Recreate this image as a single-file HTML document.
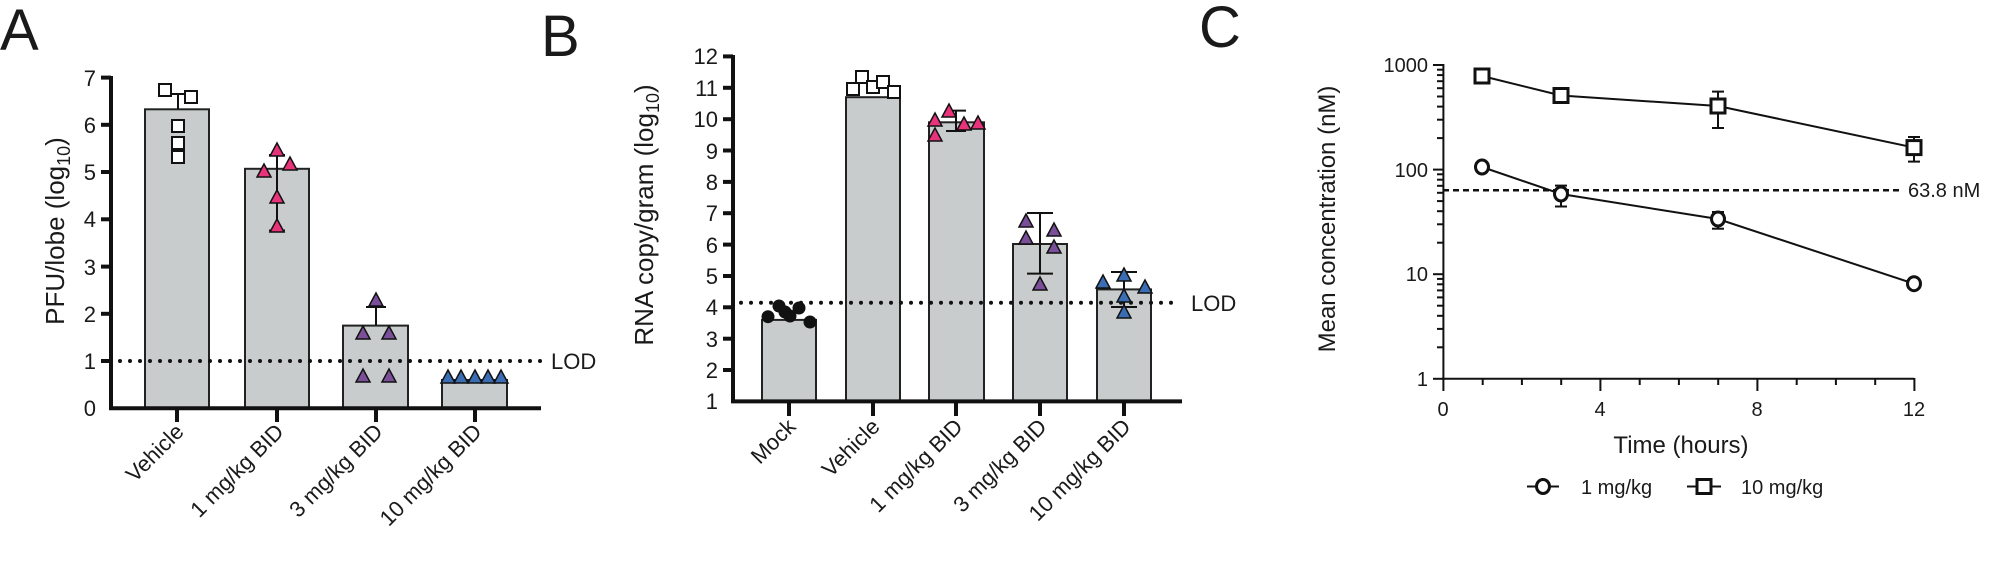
<!DOCTYPE html>
<html><head><meta charset="utf-8"><style>
html,body{margin:0;padding:0;background:#fff}
svg{display:block}
text{font-family:"Liberation Sans",Arial,sans-serif;fill:#1a1a1a}
</style></head><body>
<svg width="1998" height="563" viewBox="0 0 1998 563" xmlns="http://www.w3.org/2000/svg">
<!-- Panel letters -->
<text x="0" y="50" font-size="58">A</text>
<text x="541" y="56" font-size="58">B</text>
<text x="1199" y="47" font-size="58">C</text>

<!-- ===== Panel A ===== -->
<g stroke="#222" stroke-width="2" fill="#c9cccd">
<rect x="145" y="109.3" width="64" height="299"/>
<rect x="245" y="168.8" width="64" height="239.5"/>
<rect x="343" y="325.6" width="65" height="82.7"/>
<rect x="442" y="380" width="65" height="28.3"/>
</g>
<line x1="120" y1="361" x2="541" y2="361" stroke="#111" stroke-width="4" stroke-linecap="round" stroke-dasharray="0 10"/>
<g stroke="#111" stroke-width="2">
<line x1="178" y1="109" x2="178" y2="94"/><line x1="172" y1="94" x2="184" y2="94"/>
<line x1="277" y1="155" x2="277" y2="230.5"/><line x1="269" y1="155" x2="285" y2="155"/><line x1="269" y1="230.5" x2="285" y2="230.5"/>
<line x1="376" y1="325" x2="376" y2="307"/><line x1="366" y1="307" x2="386" y2="307"/>
</g>
<g stroke="#111" stroke-width="4" fill="none">
<line x1="111" y1="76" x2="111" y2="410"/>
<line x1="109" y1="408.3" x2="541" y2="408.3"/>
<line x1="101" y1="77.6" x2="111" y2="77.6"/><line x1="101" y1="124.8" x2="111" y2="124.8"/><line x1="101" y1="172" x2="111" y2="172"/><line x1="101" y1="219.3" x2="111" y2="219.3"/><line x1="101" y1="266.6" x2="111" y2="266.6"/><line x1="101" y1="313.8" x2="111" y2="313.8"/><line x1="101" y1="361" x2="111" y2="361"/>
<line x1="177" y1="408" x2="177" y2="422"/><line x1="277" y1="408" x2="277" y2="422"/><line x1="376" y1="408" x2="376" y2="422"/><line x1="475" y1="408" x2="475" y2="422"/>
</g>
<g font-size="22" text-anchor="end">
<text x="96" y="416">0</text><text x="96" y="369">1</text><text x="96" y="322">2</text><text x="96" y="275">3</text><text x="96" y="227">4</text><text x="96" y="180">5</text><text x="96" y="133">6</text><text x="96" y="86">7</text>
</g>
<text x="551" y="369" font-size="22">LOD</text>
<text transform="translate(64,231) rotate(-90)" font-size="26" text-anchor="middle">PFU/lobe (log<tspan font-size="18" dy="6">10</tspan><tspan dy="-6">)</tspan></text>
<g font-size="22" text-anchor="end">
<text transform="translate(185,433) rotate(-45)">Vehicle</text>
<text transform="translate(285,433) rotate(-45)">1 mg/kg BID</text>
<text transform="translate(384,433) rotate(-45)">3 mg/kg BID</text>
<text transform="translate(483,433) rotate(-45)">10 mg/kg BID</text>
</g>
<g fill="#fff" stroke="#111" stroke-width="2">
<rect x="159" y="84" width="12" height="12"/><rect x="185" y="91" width="12" height="12"/><rect x="172" y="120" width="12" height="12"/><rect x="172" y="137" width="12" height="12"/><rect x="172" y="151" width="12" height="12"/>
</g>
<g fill="#e8327a" stroke="#111" stroke-width="1.5">
<polygon points="270,156 284,156 277,143"/><polygon points="257,177 271,177 264,164"/><polygon points="283,170 297,170 290,157"/><polygon points="270,203 284,203 277,190"/><polygon points="270,232 284,232 277,219"/>
</g>
<g fill="#7a4e98" stroke="#111" stroke-width="1.5">
<polygon points="369,306 383,306 376,293"/><polygon points="356,339 370,339 363,326"/><polygon points="382,339 396,339 389,326"/><polygon points="356,382 370,382 363,369"/><polygon points="382,382 396,382 389,369"/>
</g>
<g fill="#3b6db5" stroke="#111" stroke-width="1.5">
<polygon points="441,383 455,383 448,370"/><polygon points="454,383 468,383 461,370"/><polygon points="468,383 482,383 475,370"/><polygon points="481,383 495,383 488,370"/><polygon points="494,383 508,383 501,370"/>
</g>

<!-- ===== Panel B ===== -->
<g stroke="#222" stroke-width="2" fill="#c9cccd">
<rect x="762" y="319.9" width="54" height="81.5"/>
<rect x="846" y="97.2" width="54" height="304.2"/>
<rect x="929" y="122.3" width="55" height="279.1"/>
<rect x="1013" y="244" width="54" height="157.4"/>
<rect x="1097" y="289.4" width="54" height="112"/>
</g>
<line x1="741" y1="302.7" x2="1181" y2="302.7" stroke="#111" stroke-width="4" stroke-linecap="round" stroke-dasharray="0 10"/>
<g stroke="#111" stroke-width="2">
<line x1="956" y1="110.6" x2="956" y2="131"/><line x1="946" y1="110.6" x2="966" y2="110.6"/><line x1="946" y1="131" x2="966" y2="131"/>
<line x1="1040" y1="213" x2="1040" y2="273.6"/><line x1="1027" y1="213" x2="1053" y2="213"/><line x1="1027" y1="273.6" x2="1053" y2="273.6"/>
<line x1="1124" y1="272" x2="1124" y2="307"/><line x1="1111" y1="272" x2="1137" y2="272"/><line x1="1111" y1="307" x2="1137" y2="307"/>
</g>
<g stroke="#111" stroke-width="4" fill="none">
<line x1="733" y1="55" x2="733" y2="403"/>
<line x1="731" y1="401.4" x2="1182" y2="401.4"/>
<line x1="723" y1="56.4" x2="733" y2="56.4"/><line x1="723" y1="87.8" x2="733" y2="87.8"/><line x1="723" y1="119.2" x2="733" y2="119.2"/><line x1="723" y1="150.5" x2="733" y2="150.5"/><line x1="723" y1="181.9" x2="733" y2="181.9"/><line x1="723" y1="213.2" x2="733" y2="213.2"/><line x1="723" y1="244.6" x2="733" y2="244.6"/><line x1="723" y1="276" x2="733" y2="276"/><line x1="723" y1="307.3" x2="733" y2="307.3"/><line x1="723" y1="338.7" x2="733" y2="338.7"/><line x1="723" y1="370" x2="733" y2="370"/>
<line x1="789" y1="401" x2="789" y2="416"/><line x1="873" y1="401" x2="873" y2="416"/><line x1="956" y1="401" x2="956" y2="416"/><line x1="1040" y1="401" x2="1040" y2="416"/><line x1="1124" y1="401" x2="1124" y2="416"/>
</g>
<g font-size="22" text-anchor="end">
<text x="718" y="409">1</text><text x="718" y="378">2</text><text x="718" y="347">3</text><text x="718" y="315">4</text><text x="718" y="284">5</text><text x="718" y="253">6</text><text x="718" y="221">7</text><text x="718" y="190">8</text><text x="718" y="159">9</text><text x="718" y="127">10</text><text x="718" y="96">11</text><text x="718" y="64">12</text>
</g>
<text x="1191" y="311" font-size="22">LOD</text>
<text transform="translate(653,215) rotate(-90)" font-size="26" text-anchor="middle">RNA copy/gram (log<tspan font-size="18" dy="6">10</tspan><tspan dy="-6">)</tspan></text>
<g font-size="22" text-anchor="end">
<text transform="translate(797,428) rotate(-45)">Mock</text>
<text transform="translate(881,428) rotate(-45)">Vehicle</text>
<text transform="translate(964,428) rotate(-45)">1 mg/kg BID</text>
<text transform="translate(1048,428) rotate(-45)">3 mg/kg BID</text>
<text transform="translate(1132,428) rotate(-45)">10 mg/kg BID</text>
</g>
<g fill="#111">
<circle cx="768" cy="316.7" r="6.5"/><circle cx="779" cy="306" r="6.5"/><circle cx="790" cy="316" r="6.5"/><circle cx="799" cy="308" r="6.5"/><circle cx="810" cy="322" r="6.5"/><circle cx="785" cy="312" r="6.5"/>
</g>
<g fill="#fff" stroke="#111" stroke-width="2">
<rect x="847" y="83" width="12" height="12"/><rect x="856" y="71" width="12" height="12"/><rect x="867" y="81" width="12" height="12"/><rect x="877" y="76" width="12" height="12"/><rect x="888" y="86" width="12" height="12"/>
</g>
<g fill="#e8327a" stroke="#111" stroke-width="1.5">
<polygon points="928,126 942,126 935,113"/><polygon points="942,117 956,117 949,104"/><polygon points="928,141 942,141 935,128"/><polygon points="957,130 971,130 964,117"/><polygon points="971,129 985,129 978,116"/>
</g>
<g fill="#7a4e98" stroke="#111" stroke-width="1.5">
<polygon points="1019,227 1033,227 1026,214"/><polygon points="1019,244 1033,244 1026,231"/><polygon points="1047,236 1061,236 1054,223"/><polygon points="1047,253 1061,253 1054,240"/><polygon points="1033,290 1047,290 1040,277"/>
</g>
<g fill="#3b6db5" stroke="#111" stroke-width="1.5">
<polygon points="1096,288 1110,288 1103,275"/><polygon points="1117,281 1131,281 1124,268"/><polygon points="1138,293 1152,293 1145,280"/><polygon points="1117,302 1131,302 1124,289"/><polygon points="1117,318 1131,318 1124,305"/>
</g>

<!-- ===== Panel C ===== -->
<g stroke="#111" stroke-width="2" fill="none">
<line x1="1443.4" y1="64" x2="1443.4" y2="380"/>
<line x1="1442" y1="378.8" x2="1914" y2="378.8"/>
<!-- major y ticks -->
<line x1="1433" y1="65" x2="1443" y2="65"/><line x1="1433" y1="169.6" x2="1443" y2="169.6"/><line x1="1433" y1="274.2" x2="1443" y2="274.2"/><line x1="1433" y1="378.8" x2="1443" y2="378.8"/>
<!-- minor y ticks -->
<g>
<line x1="1437" y1="347.3" x2="1443" y2="347.3"/><line x1="1437" y1="328.9" x2="1443" y2="328.9"/><line x1="1437" y1="315.8" x2="1443" y2="315.8"/><line x1="1437" y1="305.7" x2="1443" y2="305.7"/><line x1="1437" y1="297.4" x2="1443" y2="297.4"/><line x1="1437" y1="290.4" x2="1443" y2="290.4"/><line x1="1437" y1="284.3" x2="1443" y2="284.3"/><line x1="1437" y1="278.9" x2="1443" y2="278.9"/>
<line x1="1437" y1="242.7" x2="1443" y2="242.7"/><line x1="1437" y1="224.3" x2="1443" y2="224.3"/><line x1="1437" y1="211.2" x2="1443" y2="211.2"/><line x1="1437" y1="201.1" x2="1443" y2="201.1"/><line x1="1437" y1="192.8" x2="1443" y2="192.8"/><line x1="1437" y1="185.8" x2="1443" y2="185.8"/><line x1="1437" y1="179.7" x2="1443" y2="179.7"/><line x1="1437" y1="174.3" x2="1443" y2="174.3"/>
<line x1="1437" y1="138.1" x2="1443" y2="138.1"/><line x1="1437" y1="119.7" x2="1443" y2="119.7"/><line x1="1437" y1="106.6" x2="1443" y2="106.6"/><line x1="1437" y1="96.5" x2="1443" y2="96.5"/><line x1="1437" y1="88.2" x2="1443" y2="88.2"/><line x1="1437" y1="81.2" x2="1443" y2="81.2"/><line x1="1437" y1="75.1" x2="1443" y2="75.1"/><line x1="1437" y1="69.7" x2="1443" y2="69.7"/>
</g>
<!-- x ticks -->
<line x1="1443.4" y1="378" x2="1443.4" y2="391"/><line x1="1600.4" y1="378" x2="1600.4" y2="391"/><line x1="1757.4" y1="378" x2="1757.4" y2="391"/><line x1="1914.4" y1="378" x2="1914.4" y2="391"/>
<line x1="1482.7" y1="378" x2="1482.7" y2="385"/><line x1="1521.9" y1="378" x2="1521.9" y2="385"/><line x1="1561.2" y1="378" x2="1561.2" y2="385"/>
<line x1="1639.7" y1="378" x2="1639.7" y2="385"/><line x1="1678.9" y1="378" x2="1678.9" y2="385"/><line x1="1718.2" y1="378" x2="1718.2" y2="385"/>
<line x1="1796.7" y1="378" x2="1796.7" y2="385"/><line x1="1835.9" y1="378" x2="1835.9" y2="385"/><line x1="1875.2" y1="378" x2="1875.2" y2="385"/>
</g>
<g font-size="20" text-anchor="end">
<text x="1428" y="72">1000</text><text x="1428" y="177">100</text><text x="1428" y="281">10</text><text x="1428" y="386">1</text>
</g>
<g font-size="20" text-anchor="middle">
<text x="1443" y="416">0</text><text x="1600" y="416">4</text><text x="1757" y="416">8</text><text x="1914" y="416">12</text>
</g>
<text x="1681" y="453" font-size="24" text-anchor="middle">Time (hours)</text>
<text transform="translate(1335,219) rotate(-90)" font-size="24" text-anchor="middle">Mean concentration (nM)</text>
<line x1="1443" y1="190.3" x2="1903" y2="190.3" stroke="#111" stroke-width="2.5" stroke-dasharray="6 4"/>
<text x="1908" y="197" font-size="20">63.8 nM</text>
<g stroke="#111" stroke-width="2" fill="none">
<polyline points="1482,76 1561,95.5 1718,106 1914,147.6"/>
<polyline points="1482,167 1561,194 1718,219 1914,283.7"/>
<line x1="1718" y1="91.6" x2="1718" y2="128"/><line x1="1712" y1="91.6" x2="1724" y2="91.6"/><line x1="1712" y1="128" x2="1724" y2="128"/>
<line x1="1914" y1="137" x2="1914" y2="161.6"/><line x1="1908" y1="137" x2="1920" y2="137"/><line x1="1908" y1="161.6" x2="1920" y2="161.6"/>
<line x1="1561" y1="185.6" x2="1561" y2="206.5"/><line x1="1555" y1="185.6" x2="1567" y2="185.6"/><line x1="1555" y1="206.5" x2="1567" y2="206.5"/>
<line x1="1718" y1="212" x2="1718" y2="228.7"/><line x1="1712" y1="212" x2="1724" y2="212"/><line x1="1712" y1="228.7" x2="1724" y2="228.7"/>
</g>
<g fill="#fff" stroke="#111" stroke-width="3">
<rect x="1475" y="69" width="14" height="14"/><rect x="1554" y="88.5" width="14" height="14"/><rect x="1711" y="99" width="14" height="14"/><rect x="1907" y="140.6" width="14" height="14"/>
<ellipse cx="1482" cy="167" rx="6.5" ry="7"/><ellipse cx="1561" cy="194" rx="6.5" ry="7"/><ellipse cx="1718" cy="219" rx="6.5" ry="7"/><ellipse cx="1914" cy="283.7" rx="6.5" ry="7"/>
</g>
<!-- legend -->
<g stroke="#111" stroke-width="2"><line x1="1527" y1="486.5" x2="1559" y2="486.5"/><line x1="1687" y1="486.5" x2="1721" y2="486.5"/></g>
<ellipse cx="1543" cy="486.5" rx="6.5" ry="7" fill="#fff" stroke="#111" stroke-width="3"/>
<rect x="1697" y="479.5" width="14" height="14" fill="#fff" stroke="#111" stroke-width="3"/>
<text x="1581" y="494" font-size="20">1 mg/kg</text>
<text x="1741" y="494" font-size="20">10 mg/kg</text>
</svg>
</body></html>
